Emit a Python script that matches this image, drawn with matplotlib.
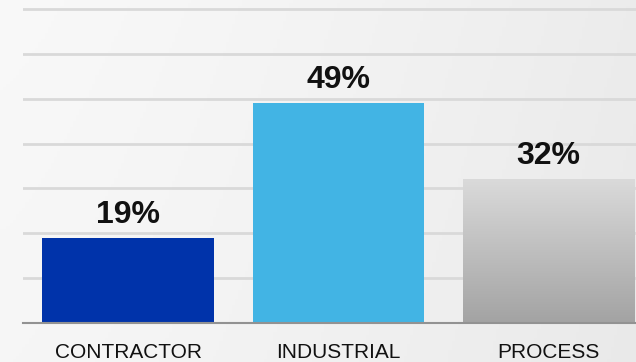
import numpy as np
import matplotlib

matplotlib.use("Agg")
import matplotlib.pyplot as plt
from matplotlib.colors import LinearSegmentedColormap

categories = ["CONTRACTOR", "INDUSTRIAL", "PROCESS"]
shares = [19, 49, 32]
value_labels = ["19%", "49%", "32%"]

plt.rcParams["font.family"] = ["Liberation Sans", "DejaVu Sans"]

W, H, DPI = 636, 362, 100
fig = plt.figure(figsize=(W / DPI, H / DPI), dpi=DPI)

# soft grey backdrop, lighter on the left
bg = fig.add_axes([0, 0, 1, 1], zorder=-10)
gx = np.linspace(0, 1, 200)
gy = np.linspace(0, 1, 120)
X, Y = np.meshgrid(gx, gy)
shade = 0.975 - 0.05 * X ** 1.3 - 0.01 * Y
bg.imshow(np.dstack([shade] * 3), extent=[0, 1, 0, 1], aspect="auto", origin="upper")
bg.set_axis_off()

left = 23 / W
bottom = (H - 323) / H
ax = fig.add_axes([left, bottom, 1 - left, 1 - bottom])
ax.set_facecolor("none")
ax.set_xlim(-0.5, 2.415)
ax.set_ylim(0, 72)

ax.set_yticks(np.arange(10, 71, 10))
ax.yaxis.grid(True, color="#d9d9d9", linewidth=2)
ax.set_axisbelow(True)
ax.tick_params(left=False, bottom=False, labelleft=False, labelbottom=False)
for side in ["top", "right", "left"]:
    ax.spines[side].set_visible(False)
ax.spines["bottom"].set_color("#929292")
ax.spines["bottom"].set_linewidth(1.5)
ax.spines["bottom"].set_zorder(5)

xs = np.arange(len(categories))
colors = ["#0033aa", "#42b4e4", "#c0c0c0"]
bars = ax.bar(xs, shares, width=0.817, color=colors, zorder=3)

# vertical grey fade on the last bar
grey = LinearSegmentedColormap.from_list("greyfade", ["#a3a3a3", "#dadada"])
last = bars[-1]
bx, bw, bh = last.get_x(), last.get_width(), last.get_height()
grad = np.linspace(0, 1, 256).reshape(-1, 1)
img = ax.imshow(grad, cmap=grey, origin="lower", aspect="auto",
                extent=[bx, bx + bw, 0, bh], zorder=4)
img.set_clip_path(last)
last.set_facecolor("none")

for x, v, lab in zip(xs, shares, value_labels):
    ax.annotate(lab, (x, v), xytext=(0, 10.8), textcoords="offset points",
                ha="center", va="baseline", fontsize=23, fontweight="bold",
                color="#111111")

for x, name in zip(xs, categories):
    ax.text(x, -35 / 323, name, transform=ax.get_xaxis_transform(),
            ha="center", va="baseline", fontsize=15, color="#111111")

fig.savefig("out.png", dpi=DPI)
